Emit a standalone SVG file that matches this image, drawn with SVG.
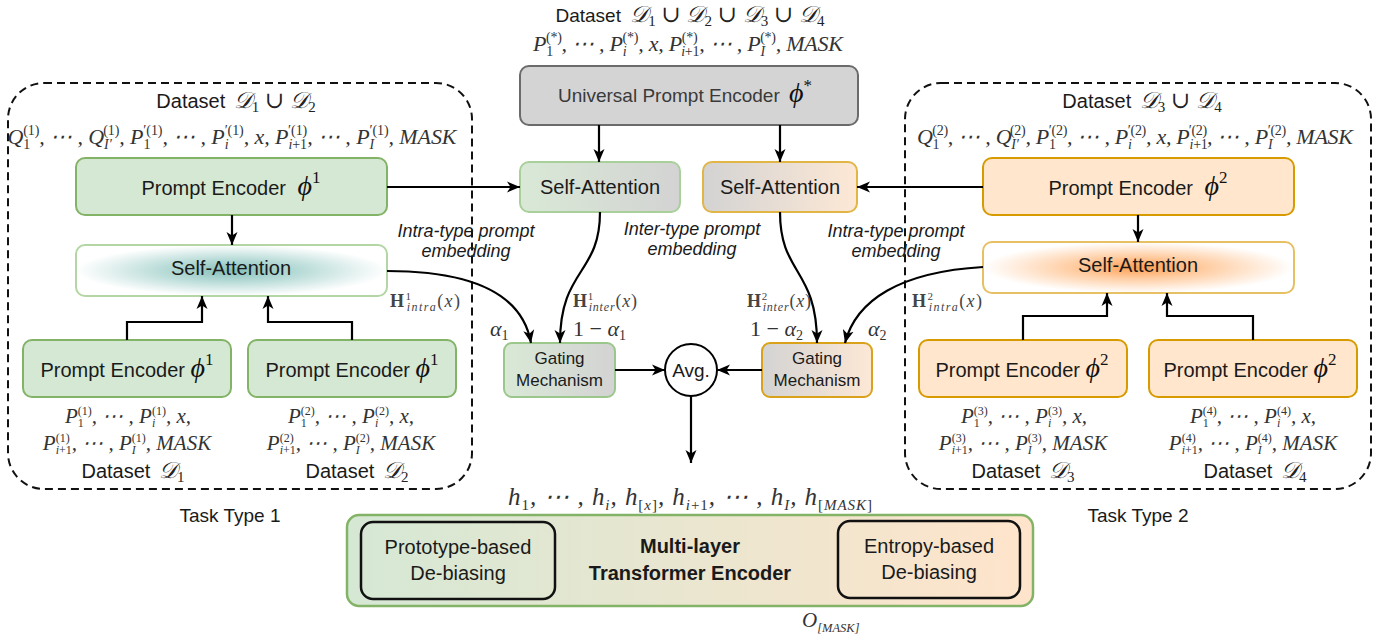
<svg xmlns="http://www.w3.org/2000/svg" width="1390" height="639" viewBox="0 0 1390 639">
<defs>
<style>
.t{font-family:"Liberation Sans",Arial,sans-serif;fill:#1a1a1a}
.f20{font-size:20px}.f19{font-size:19px}.f17{font-size:17px}
.it{font-style:italic;font-size:18px}
.bd{font-weight:bold;font-size:20px}
.m{font-family:"Liberation Serif","DejaVu Serif",serif;font-size:22px;font-style:italic;fill:#333}
.m2{font-family:"Liberation Serif","DejaVu Serif",serif;font-size:21px;font-style:italic;fill:#333}
.s{font-size:14px;font-style:normal}
.si{font-size:14px;font-style:italic}
.s2{font-size:12px;font-style:normal}
.si2{font-size:12px;font-style:italic}
.up{font-style:normal}
.cal{font-family:"Liberation Serif","DejaVu Serif",serif;font-style:italic;font-size:23px;fill:#222}
.cs{font-family:"Liberation Serif","DejaVu Serif",serif;font-size:15px;fill:#222}
.phi{font-family:"Liberation Serif","DejaVu Serif",serif;font-style:italic;font-size:28px;fill:#111}
.phs{font-family:"Liberation Serif","DejaVu Serif",serif;font-size:17px;fill:#111}
.H{font-family:"Liberation Serif","DejaVu Serif",serif;font-size:18px;fill:#444}
.Hb{font-weight:bold}
.hs{font-size:11px}
.hsi{font-size:12px;font-style:italic}
.dash{fill:none;stroke:#111;stroke-width:2;stroke-dasharray:8 5}
.green{fill:#d5e8d4;stroke:#82b366;stroke-width:2}
.orange{fill:#ffe6cc;stroke:#d79b00;stroke-width:2}
.conn path{fill:none;stroke:#000;stroke-width:2.2;marker-end:url(#arr)}
</style>
<marker id="arr" markerUnits="userSpaceOnUse" markerWidth="14" markerHeight="14" refX="13" refY="7" orient="auto">
<path d="M0,1.5 L13,7 L0,12.5 L3.5,7 Z" fill="#000"/>
</marker>
<linearGradient id="gGreenGrey" x1="0" y1="0" x2="1" y2="0"><stop offset="0" stop-color="#d9e9d6"/><stop offset="1" stop-color="#d3d3d3"/></linearGradient>
<linearGradient id="gGreyOrange" x1="0" y1="0" x2="1" y2="0"><stop offset="0" stop-color="#d3d3d3"/><stop offset="1" stop-color="#fde8d5"/></linearGradient>
<linearGradient id="gTrans" x1="0" y1="0" x2="1" y2="0"><stop offset="0" stop-color="#d5e8d4"/><stop offset="1" stop-color="#ffe4cb"/></linearGradient>
<radialGradient id="gTeal" cx="0.5" cy="0.5" r="0.5"><stop offset="0" stop-color="#86c1bb"/><stop offset="0.45" stop-color="#b9dcd8"/><stop offset="1" stop-color="#ffffff"/></radialGradient>
<radialGradient id="gOr" cx="0.5" cy="0.5" r="0.5"><stop offset="0" stop-color="#ff9f52"/><stop offset="0.45" stop-color="#ffcfa6"/><stop offset="1" stop-color="#ffffff"/></radialGradient>
</defs>
<rect width="1390" height="639" fill="#fff"/>

<g id="taskType1">
<rect class="dash" x="8" y="83" width="464" height="406" rx="36"/>
<text class="t f19" x="230" y="522" text-anchor="middle">Task Type 1</text>
</g>
<g id="taskType2">
<rect class="dash" x="905" y="83" width="466" height="406" rx="36"/>
<text class="t f19" x="1138" y="522" text-anchor="middle">Task Type 2</text>
</g>

<g id="topDataset">
<text class="t f19" x="690" y="22" text-anchor="middle">Dataset <tspan class="cal" dx="4">𝒟</tspan><tspan class="cs" dy="4">1</tspan><tspan class="cal" dy="-4"> ∪ 𝒟</tspan><tspan class="cs" dy="4">2</tspan><tspan class="cal" dy="-4"> ∪ 𝒟</tspan><tspan class="cs" dy="4">3</tspan><tspan class="cal" dy="-4"> ∪ 𝒟</tspan><tspan class="cs" dy="4">4</tspan></text>
<text class="m" x="688" y="51" text-anchor="middle" textLength="310">P<tspan class="s" dy="5">1</tspan><tspan class="s" dx="-7" dy="-14">(*)</tspan><tspan dy="9">, ⋯ , P</tspan><tspan class="si" dy="5">i</tspan><tspan class="s" dx="-3.9" dy="-14">(*)</tspan><tspan dy="9">, x, P</tspan><tspan class="s" dy="-9">(*)</tspan><tspan class="si" dx="-16.3" dy="14">i</tspan><tspan class="s">+1</tspan><tspan dy="-5">, ⋯ , P</tspan><tspan class="si" dy="5">I</tspan><tspan class="s" dx="-4.7" dy="-14">(*)</tspan><tspan dy="9">, MASK</tspan></text>
</g>

<g id="universalEncoder">
<rect x="520" y="66" width="338" height="59" rx="9" fill="#d4d4d4" stroke="#6b6b6b" stroke-width="2"/>
<text class="t f19" x="685" y="102" text-anchor="middle" style="fill:#3a3a3a">Universal Prompt Encoder <tspan class="phi" dx="4">ϕ</tspan><tspan class="phs" dy="-11">*</tspan></text>
</g>

<g id="leftDataset">
<text class="t f20" x="236" y="108" text-anchor="middle">Dataset <tspan class="cal" dx="3">𝒟</tspan><tspan class="cs" dy="4">1</tspan><tspan class="cal" dy="-4"> ∪ 𝒟</tspan><tspan class="cs" dy="4">2</tspan></text>
<text class="m" x="232" y="144" text-anchor="middle" textLength="449">Q<tspan class="s" dy="5">1</tspan><tspan class="s" dx="-7" dy="-14">(1)</tspan><tspan dy="9">, ⋯ , Q</tspan><tspan class="si" dy="5">I′</tspan><tspan class="s" dx="-8.5" dy="-14">(1)</tspan><tspan dy="9">, P</tspan><tspan class="s" dy="5">1</tspan><tspan class="s" dx="-7" dy="-14">′(1)</tspan><tspan dy="9">, ⋯ , P</tspan><tspan class="si" dy="5">i</tspan><tspan class="s" dx="-3.9" dy="-14">′(1)</tspan><tspan dy="9">, x, P</tspan><tspan class="si" dy="5">i</tspan><tspan class="s">+1</tspan><tspan class="s" dx="-18.8" dy="-14">′(1)</tspan><tspan dy="9">, ⋯ , P</tspan><tspan class="si" dy="5">I</tspan><tspan class="s" dx="-4.7" dy="-14">′(1)</tspan><tspan dy="9">, MASK</tspan></text>
</g>
<g id="pe1">
<rect class="green" x="76" y="158" width="311" height="57" rx="9"/>
<text class="t f20" x="231" y="195" text-anchor="middle">Prompt Encoder <tspan class="phi" dx="6">ϕ</tspan><tspan class="phs" dy="-12">1</tspan></text>
</g>
<g id="saLeft">
<rect x="76" y="245" width="311" height="51" rx="9" fill="url(#gTeal)" stroke="#b3d6a4" stroke-width="2"/>
<text class="t f20" x="231" y="275" text-anchor="middle">Self-Attention</text>
</g>
<g id="pe1a">
<rect class="green" x="23" y="340" width="208" height="57" rx="9"/>
<text class="t f20" x="127" y="377" text-anchor="middle">Prompt Encoder <tspan class="phi">ϕ</tspan><tspan class="phs" dy="-12">1</tspan></text>
<text class="m2" x="128" y="423" text-anchor="middle">P<tspan class="s2" dy="4">1</tspan><tspan class="s2" dx="-6" dy="-12">(1)</tspan><tspan dy="8">, ⋯ , P</tspan><tspan class="si2" dy="4">i</tspan><tspan class="s2" dx="-3.3" dy="-12">(1)</tspan><tspan dy="8">, x,</tspan><tspan x="127" y="450">P</tspan><tspan class="s2" dy="-8">(1)</tspan><tspan class="si2" dx="-14" dy="12">i</tspan><tspan class="s2">+1</tspan><tspan dy="-4">, ⋯ , P</tspan><tspan class="si2" dy="4">I</tspan><tspan class="s2" dx="-4" dy="-12">(1)</tspan><tspan dy="8">, MASK</tspan></text>
<text class="t f20" x="133" y="478" text-anchor="middle">Dataset <tspan class="cal" dx="3">𝒟</tspan><tspan class="cs" dy="4">1</tspan></text>
</g>
<g id="pe1b">
<rect class="green" x="248" y="340" width="208" height="57" rx="9"/>
<text class="t f20" x="352" y="377" text-anchor="middle">Prompt Encoder <tspan class="phi">ϕ</tspan><tspan class="phs" dy="-12">1</tspan></text>
<text class="m2" x="351" y="423" text-anchor="middle">P<tspan class="s2" dy="4">1</tspan><tspan class="s2" dx="-6" dy="-12">(2)</tspan><tspan dy="8">, ⋯ , P</tspan><tspan class="si2" dy="4">i</tspan><tspan class="s2" dx="-3.3" dy="-12">(2)</tspan><tspan dy="8">, x,</tspan><tspan x="351" y="450">P</tspan><tspan class="s2" dy="-8">(2)</tspan><tspan class="si2" dx="-14" dy="12">i</tspan><tspan class="s2">+1</tspan><tspan dy="-4">, ⋯ , P</tspan><tspan class="si2" dy="4">I</tspan><tspan class="s2" dx="-4" dy="-12">(2)</tspan><tspan dy="8">, MASK</tspan></text>
<text class="t f20" x="357" y="478" text-anchor="middle">Dataset <tspan class="cal" dx="3">𝒟</tspan><tspan class="cs" dy="4">2</tspan></text>
</g>

<g id="rightDataset">
<text class="t f20" x="1142" y="108" text-anchor="middle">Dataset <tspan class="cal" dx="3">𝒟</tspan><tspan class="cs" dy="4">3</tspan><tspan class="cal" dy="-4"> ∪ 𝒟</tspan><tspan class="cs" dy="4">4</tspan></text>
<text class="m" x="1135" y="144" text-anchor="middle" textLength="436">Q<tspan class="s" dy="5">1</tspan><tspan class="s" dx="-7" dy="-14">(2)</tspan><tspan dy="9">, ⋯ , Q</tspan><tspan class="si" dy="5">I′</tspan><tspan class="s" dx="-8.5" dy="-14">(2)</tspan><tspan dy="9">, P</tspan><tspan class="s" dy="5">1</tspan><tspan class="s" dx="-7" dy="-14">′(2)</tspan><tspan dy="9">, ⋯ , P</tspan><tspan class="si" dy="5">i</tspan><tspan class="s" dx="-3.9" dy="-14">′(2)</tspan><tspan dy="9">, x, P</tspan><tspan class="si" dy="5">i</tspan><tspan class="s">+1</tspan><tspan class="s" dx="-18.8" dy="-14">′(2)</tspan><tspan dy="9">, ⋯ , P</tspan><tspan class="si" dy="5">I</tspan><tspan class="s" dx="-4.7" dy="-14">′(2)</tspan><tspan dy="9">, MASK</tspan></text>
</g>
<g id="pe2">
<rect class="orange" x="983" y="158" width="311" height="57" rx="9"/>
<text class="t f20" x="1138" y="195" text-anchor="middle">Prompt Encoder <tspan class="phi" dx="6">ϕ</tspan><tspan class="phs" dy="-12">2</tspan></text>
</g>
<g id="saRight">
<rect x="983" y="242" width="311" height="51" rx="9" fill="url(#gOr)" stroke="#e6c063" stroke-width="2"/>
<text class="t f20" x="1138" y="272" text-anchor="middle">Self-Attention</text>
</g>
<g id="pe2a">
<rect class="orange" x="919" y="340" width="208" height="57" rx="9"/>
<text class="t f20" x="1022" y="377" text-anchor="middle">Prompt Encoder <tspan class="phi">ϕ</tspan><tspan class="phs" dy="-12">2</tspan></text>
<text class="m2" x="1024" y="423" text-anchor="middle">P<tspan class="s2" dy="4">1</tspan><tspan class="s2" dx="-6" dy="-12">(3)</tspan><tspan dy="8">, ⋯ , P</tspan><tspan class="si2" dy="4">i</tspan><tspan class="s2" dx="-3.3" dy="-12">(3)</tspan><tspan dy="8">, x,</tspan><tspan x="1023" y="450">P</tspan><tspan class="s2" dy="-8">(3)</tspan><tspan class="si2" dx="-14" dy="12">i</tspan><tspan class="s2">+1</tspan><tspan dy="-4">, ⋯ , P</tspan><tspan class="si2" dy="4">I</tspan><tspan class="s2" dx="-4" dy="-12">(3)</tspan><tspan dy="8">, MASK</tspan></text>
<text class="t f20" x="1023" y="478" text-anchor="middle">Dataset <tspan class="cal" dx="3">𝒟</tspan><tspan class="cs" dy="4">3</tspan></text>
</g>
<g id="pe2b">
<rect class="orange" x="1149" y="340" width="208" height="57" rx="9"/>
<text class="t f20" x="1250" y="377" text-anchor="middle">Prompt Encoder <tspan class="phi">ϕ</tspan><tspan class="phs" dy="-12">2</tspan></text>
<text class="m2" x="1253" y="423" text-anchor="middle">P<tspan class="s2" dy="4">1</tspan><tspan class="s2" dx="-6" dy="-12">(4)</tspan><tspan dy="8">, ⋯ , P</tspan><tspan class="si2" dy="4">i</tspan><tspan class="s2" dx="-3.3" dy="-12">(4)</tspan><tspan dy="8">, x,</tspan><tspan x="1253" y="450">P</tspan><tspan class="s2" dy="-8">(4)</tspan><tspan class="si2" dx="-14" dy="12">i</tspan><tspan class="s2">+1</tspan><tspan dy="-4">, ⋯ , P</tspan><tspan class="si2" dy="4">I</tspan><tspan class="s2" dx="-4" dy="-12">(4)</tspan><tspan dy="8">, MASK</tspan></text>
<text class="t f20" x="1255" y="478" text-anchor="middle">Dataset <tspan class="cal" dx="3">𝒟</tspan><tspan class="cs" dy="4">4</tspan></text>
</g>

<g id="saInter1">
<rect x="520" y="162" width="160" height="50" rx="9" fill="url(#gGreenGrey)" stroke="#a9d09a" stroke-width="2"/>
<text class="t f20" x="600" y="194" text-anchor="middle">Self-Attention</text>
</g>
<g id="saInter2">
<rect x="703" y="162" width="154" height="50" rx="9" fill="url(#gGreyOrange)" stroke="#e2b547" stroke-width="2"/>
<text class="t f20" x="780" y="194" text-anchor="middle">Self-Attention</text>
</g>
<g id="gating1">
<rect x="504" y="343" width="111" height="54" rx="8" fill="url(#gGreenGrey)" stroke="#9cc78c" stroke-width="2"/>
<text class="t f17" x="559.5" y="364" text-anchor="middle">Gating</text>
<text class="t f17" x="559.5" y="386" text-anchor="middle">Mechanism</text>
</g>
<g id="gating2">
<rect x="762" y="343" width="110" height="54" rx="8" fill="url(#gGreyOrange)" stroke="#d9a21a" stroke-width="2"/>
<text class="t f17" x="817" y="364" text-anchor="middle">Gating</text>
<text class="t f17" x="817" y="386" text-anchor="middle">Mechanism</text>
</g>
<g id="avg">
<circle cx="691" cy="370" r="26" fill="#fff" stroke="#000" stroke-width="2"/>
<text class="t f19" x="691" y="377" text-anchor="middle">Avg.</text>
</g>

<g id="labels">
<text class="t it" x="466" y="237" text-anchor="middle">Intra-type prompt</text>
<text class="t it" x="466" y="257" text-anchor="middle">embedding</text>
<text class="t it" x="692" y="235" text-anchor="middle">Inter-type prompt</text>
<text class="t it" x="692" y="255" text-anchor="middle">embedding</text>
<text class="t it" x="896" y="237" text-anchor="middle">Intra-type prompt</text>
<text class="t it" x="896" y="257" text-anchor="middle">embedding</text>
<text class="H" x="390" y="307" textLength="70"><tspan class="Hb">H</tspan><tspan class="hs" dy="-7">1</tspan><tspan class="hsi" dx="-5.5" dy="11">intra</tspan><tspan dy="-4">(</tspan><tspan font-style="italic">x</tspan>)</text>
<text class="H" x="573" y="307" textLength="64"><tspan class="Hb">H</tspan><tspan class="hs" dy="-7">1</tspan><tspan class="hsi" dx="-5.5" dy="11">inter</tspan><tspan dy="-4">(</tspan><tspan font-style="italic">x</tspan>)</text>
<text class="H" x="747" y="307" textLength="64"><tspan class="Hb">H</tspan><tspan class="hs" dy="-7">2</tspan><tspan class="hsi" dx="-5.5" dy="11">inter</tspan><tspan dy="-4">(</tspan><tspan font-style="italic">x</tspan>)</text>
<text class="H" x="912" y="307" textLength="70"><tspan class="Hb">H</tspan><tspan class="hs" dy="-7">2</tspan><tspan class="hsi" dx="-5.5" dy="11">intra</tspan><tspan dy="-4">(</tspan><tspan font-style="italic">x</tspan>)</text>
<text class="m" x="490" y="336">α<tspan class="s" dy="4">1</tspan></text>
<text class="m" x="573" y="336"><tspan class="up">1 − </tspan>α<tspan class="s" dy="4">1</tspan></text>
<text class="m" x="750" y="336"><tspan class="up">1 − </tspan>α<tspan class="s" dy="4">2</tspan></text>
<text class="m" x="868" y="336">α<tspan class="s" dy="4">2</tspan></text>
</g>

<g id="transformer">
<text class="m" x="690" y="505" text-anchor="middle" textLength="364" style="font-size:25px">h<tspan class="s" dy="5" style="font-size:15px">1</tspan><tspan dy="-5">, ⋯ , h</tspan><tspan class="si" dy="5" style="font-size:15px">i</tspan><tspan dy="-5">, h</tspan><tspan class="s" dy="5" style="font-size:15px">[<tspan class="si" style="font-size:15px">x</tspan>]</tspan><tspan dy="-5">, h</tspan><tspan class="si" dy="5" style="font-size:15px">i</tspan><tspan class="s" style="font-size:15px">+1</tspan><tspan dy="-5">, ⋯ , h</tspan><tspan class="si" dy="5" style="font-size:15px">I</tspan><tspan dy="-5">, h</tspan><tspan class="s" dy="5" style="font-size:15px">[<tspan class="si" style="font-size:15px">MASK</tspan>]</tspan></text>
<rect x="347" y="515" width="686" height="91" rx="12" fill="url(#gTrans)" stroke="#82b366" stroke-width="2.5"/>
<text class="t bd" x="690" y="553" text-anchor="middle">Multi-layer</text>
<text class="t bd" x="690" y="580" text-anchor="middle">Transformer Encoder</text>
<text class="m" x="802" y="627" style="font-size:21px">O<tspan class="si" dy="5" style="font-size:12.5px">[MASK]</tspan></text>
</g>
<g id="prototype">
<rect x="361" y="522" width="194" height="77" rx="12" fill="none" stroke="#111" stroke-width="2.5"/>
<text class="t f20" x="458" y="554" text-anchor="middle">Prototype-based</text>
<text class="t f20" x="458" y="580" text-anchor="middle">De-biasing</text>
</g>
<g id="entropy">
<rect x="838" y="521" width="182" height="77" rx="12" fill="none" stroke="#111" stroke-width="2.5"/>
<text class="t f20" x="929" y="553" text-anchor="middle">Entropy-based</text>
<text class="t f20" x="929" y="579" text-anchor="middle">De-biasing</text>
</g>

<g id="connectors" class="conn">
<path d="M599,125 L599,162"/>
<path d="M780,125 L780,162"/>
<path d="M387,187 L520,187"/>
<path d="M983,187 L857,187"/>
<path d="M232,215 L232,245"/>
<path d="M1138,215 L1138,242"/>
<path d="M127,340 L127,322 L202,322 L202,296"/>
<path d="M352,340 L352,322 L268,322 L268,296"/>
<path d="M1023,340 L1023,316 L1107,316 L1107,293"/>
<path d="M1253,340 L1253,316 L1167,316 L1167,293"/>
<path d="M387,271 C470,271 522,292 531,343"/>
<path d="M600,212 C600,275 560,268 560,343"/>
<path d="M780,212 C780,275 817,268 817,343"/>
<path d="M983,267 C900,272 856,300 845,343"/>
<path d="M615,370 L665,370"/>
<path d="M762,370 L717,370"/>
<path d="M691,396 L691,463"/>
</g>
</svg>
